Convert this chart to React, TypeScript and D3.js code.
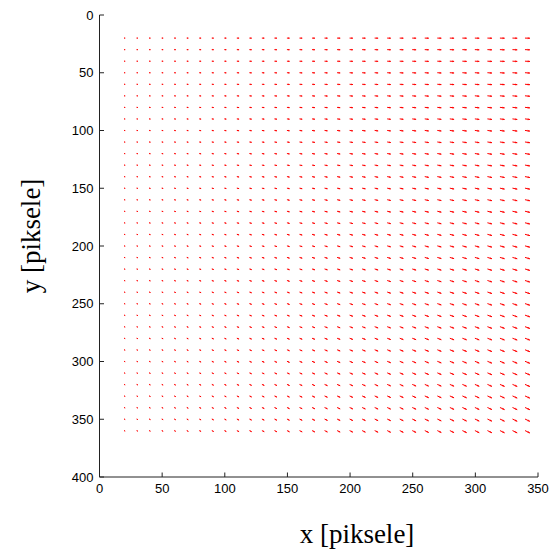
import React from "react";
import * as d3 from "d3";

const xTicks = [0, 50, 100, 150, 200, 250, 300, 350];
const yTicks = [0, 50, 100, 150, 200, 250, 300, 350, 400];

// grid positions of the arrows (data units, pixels of the analysed image)
const gridX = [20, 30, 40, 50, 60, 70, 80, 90, 100, 110, 120, 130, 140, 150, 160, 170, 180, 190, 200, 210, 220, 230, 240, 250, 260, 270, 280, 290, 300, 310, 320, 330, 340];
const gridY = [20, 30, 40, 50, 60, 70, 80, 90, 100, 110, 120, 130, 140, 150, 160, 170, 180, 190, 200, 210, 220, 230, 240, 250, 260, 270, 280, 290, 300, 310, 320, 330, 340, 350, 360];

// horizontal displacement read per column
const uByColumn = [0.2, 0.3, 0.4, 0.5, 0.55, 0.65, 0.75, 0.85, 0.95, 1.05, 1.15, 1.25, 1.3, 1.4, 1.5, 1.6, 1.7, 1.8, 1.9, 2.0, 2.05, 2.15, 2.25, 2.35, 2.45, 2.55, 2.65, 2.75, 2.8, 2.9, 3.0, 3.1, 3.2];
// vertical displacement read per column at the bottom row
const vBottomByColumn = [0.1, 0.15, 0.2, 0.25, 0.3, 0.35, 0.4, 0.45, 0.5, 0.55, 0.6, 0.65, 0.7, 0.75, 0.8, 0.85, 0.9, 0.95, 1.0, 1.05, 1.1, 1.15, 1.2, 1.25, 1.3, 1.35, 1.4, 1.45, 1.5, 1.55, 1.6, 1.65, 1.7];
// share of the bottom-row vertical displacement per row
const vRowShare = [0.06, 0.08, 0.11, 0.14, 0.17, 0.19, 0.22, 0.25, 0.28, 0.31, 0.33, 0.36, 0.39, 0.42, 0.44, 0.47, 0.5, 0.53, 0.56, 0.58, 0.61, 0.64, 0.67, 0.69, 0.72, 0.75, 0.78, 0.81, 0.83, 0.86, 0.89, 0.92, 0.94, 0.97, 1.0];

const W = 549;
const H = 554;

export default function App() {
  const x = d3.scaleLinear().domain([0, 350]).range([99.5, 538]);
  const y = d3.scaleLinear().domain([0, 400]).range([15, 477]);
  const alpha = 0.33;
  const beta = 0.33;

  const arrows: { body: string; head: string; key: string }[] = [];
  gridY.forEach((gy, r) => {
    gridX.forEach((gx, c) => {
      const u = uByColumn[c];
      const v = vBottomByColumn[c] * vRowShare[r];
      const tx = gx + u;
      const ty = gy + v;
      const body = d3.line()([
        [x(gx), y(gy)],
        [x(tx), y(ty)],
      ]) as string;
      const head = d3.line()([
        [x(tx - alpha * (u + beta * v)), y(ty - alpha * (v - beta * u))],
        [x(tx), y(ty)],
        [x(tx - alpha * (u - beta * v)), y(ty - alpha * (v + beta * u))],
      ]) as string;
      arrows.push({ body, head, key: `${r}-${c}` });
    });
  });

  const [x0, x1] = x.range();
  const [y0, y1] = y.range();

  return (
    <svg width={W} height={H} style={{ display: "block", position: "absolute", left: 0, top: 0, background: "#fff" }}>
      <g stroke="#ff0000" strokeWidth={1} fill="none" strokeLinecap="square">
        {arrows.map((a) => (
          <g key={a.key}>
            <path d={a.body} />
            <path d={a.head} strokeWidth={0.6} />
          </g>
        ))}
      </g>
      {/* axes */}
      <g stroke="#222" strokeWidth={1} fill="none">
        <line x1={x0} y1={y0} x2={x0} y2={y1} />
        <line x1={x0} y1={y1} x2={x1} y2={y1} />
        {yTicks.map((t) => (
          <line key={"yt" + t} x1={x0} x2={x0 + 4.5} y1={y(t)} y2={y(t)} />
        ))}
        {xTicks.map((t) => (
          <line key={"xt" + t} x1={x(t)} x2={x(t)} y1={y1} y2={y1 - 4.5} />
        ))}
      </g>
      <g fontFamily="'Liberation Sans', Arial, sans-serif" fontSize={13} fill="#000">
        {yTicks.map((t) => (
          <text key={"yl" + t} x={x0 - 6} y={y(t)} textAnchor="end" dominantBaseline="central">
            {t}
          </text>
        ))}
        {xTicks.map((t) => (
          <text key={"xl" + t} x={x(t)} y={y1 + 16} textAnchor="middle">
            {t}
          </text>
        ))}
      </g>
      <g fontFamily="'Liberation Serif', 'Times New Roman', serif" fontSize={27} fill="#000">
        <text x={357} y={543} textAnchor="middle">x [piksele]</text>
        <text transform={`translate(40, ${(y0 + y1) / 2 - 10}) rotate(-90)`} textAnchor="middle">
          y [piksele]
        </text>
      </g>
    </svg>
  );
}
